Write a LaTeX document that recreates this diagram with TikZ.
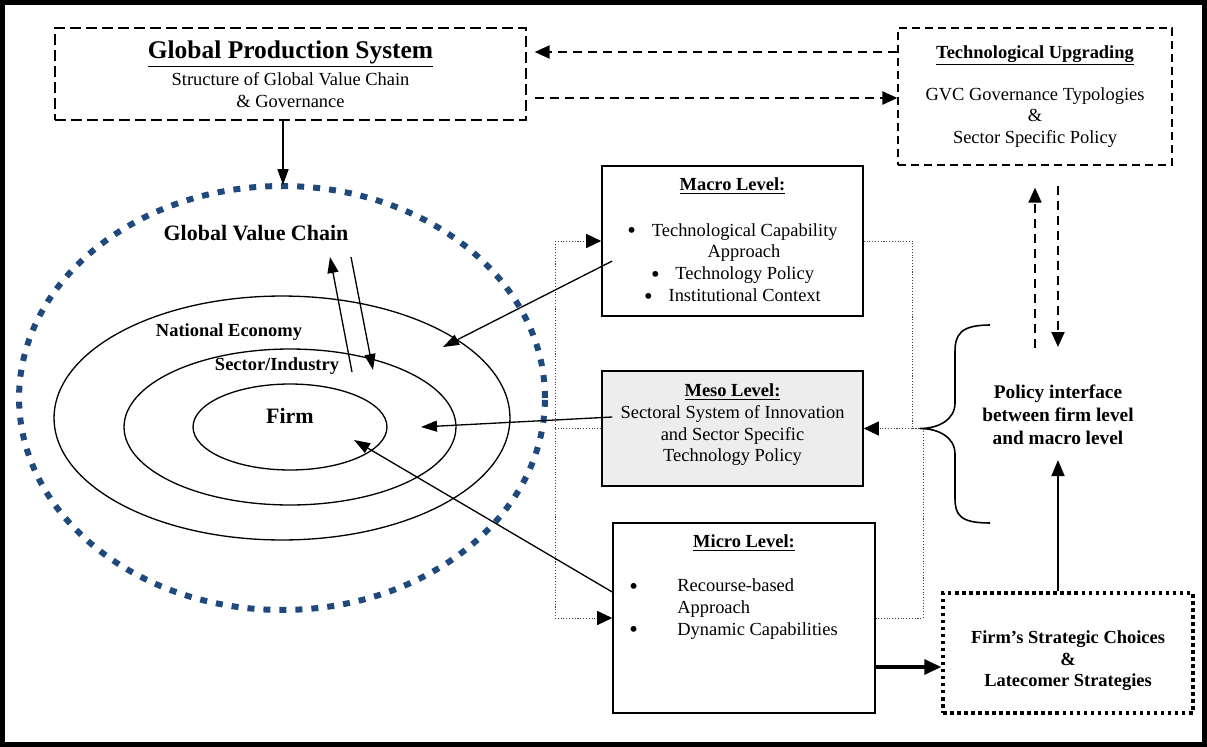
\documentclass[tikz,border=0pt]{standalone}
\usepackage{fontspec}
\setmainfont{Liberation Serif}
\usetikzlibrary{arrows.meta,positioning,calc}
\definecolor{gvcblue}{RGB}{31,73,125}
\newcommand{\lvlbullet}{\raisebox{-1.6pt}{\fontsize{14}{0}\selectfont\textbullet}}

\begin{document}
\begin{tikzpicture}[
    x=0.02cm, y=-0.02cm,
    every node/.style={font=\fontsize{10.5}{12.4}\selectfont, align=center, inner sep=0pt},
    levelbox/.style={draw, line width=0.9pt, minimum width=5.22cm},
    dashbox/.style={draw, line width=0.8pt, dash pattern=on 0.22cm off 0.1cm},
    dotline/.style={draw=black!75, line width=0.5pt, dash pattern=on 0.6pt off 1pt},
    arr/.style={line width=0.75pt, -{Triangle[length=0.32cm, width=0.22cm]}},
    dotarr/.style={dotline, -{Triangle[length=0.3cm, width=0.28cm, color=black]}},
    dasharr/.style={line width=1.3pt, dash pattern=on 0.19cm off 0.11cm, -{Triangle[length=0.3cm, width=0.26cm]}},
    ring/.style={draw, line width=0.75pt},
    lbl/.style={font=\fontsize{10.5}{12.4}\selectfont\bfseries},
    biglbl/.style={font=\fontsize{12.5}{14}\selectfont\bfseries}
]
\useasboundingbox (0,0) rectangle (1207,747);

% Frame
\draw[line width=0.1cm] (2.5,2.5) rectangle (1204.5,744.5);

% Global value chain rings
\draw[draw=gvcblue, line width=0.12cm, dash pattern=on 0.14cm off 0.18cm] (282,398) ellipse [x radius=5.26cm, y radius=4.24cm];
\draw[ring] (282,418) ellipse [x radius=4.56cm, y radius=2.44cm];
\draw[ring] (290,427) ellipse [x radius=3.32cm, y radius=1.56cm];
\draw[ring] (290,427) ellipse [x radius=1.94cm, y radius=0.86cm];

\node[biglbl] (gvclabel) at (256,233) {Global Value Chain};
\node[lbl] (natlabel) at (229,332) {National Economy};
\node[lbl] (seclabel) at (277,366) {Sector/Industry};
\node[biglbl] (firmlabel) at (290,416) {Firm};

% Top boxes
\node[dashbox, minimum width=9.42cm, minimum height=1.84cm] (gps) at (290.5,74)
  {{\fontsize{14.5}{16}\selectfont\bfseries\underline{Global Production System}}\\[2pt]
   Structure of Global Value Chain\\ \& Governance};
\node[dashbox, line width=0.7pt, dash pattern=on 0.16cm off 0.1cm,
      minimum width=5.48cm, minimum height=2.74cm] (tu) at (1035,96.5)
  {\textbf{\underline{Technological Upgrading}}\\[11.5pt]
   GVC Governance Typologies\\ \&\\ Sector Specific Policy};

% Level boxes
\node[levelbox, minimum height=3cm] (macro) at (732.5,241)
  {\textbf{\underline{Macro Level:}}\\[13.5pt]
   \lvlbullet\hspace{9pt}Technological Capability\\
   \hspace*{0.46cm}Approach\\
   \lvlbullet\hspace{9pt}Technology Policy\\
   \lvlbullet\hspace{9pt}Institutional Context};
\node[levelbox, minimum height=2.3cm, fill=gray!14] (meso) at (732.5,428.5)
  {\textbf{\underline{Meso Level:}}\\
   Sectoral System of Innovation\\ and Sector Specific\\ Technology Policy\rule[-6.5pt]{0pt}{6.5pt}};
\node[levelbox, minimum width=5.24cm, minimum height=3.8cm] (micro) at (744,618) {};
\node[lbl] (microtitle) at (744,543) {\underline{Micro Level:}};
\node[anchor=west] (microlist) at (629,609)
  {\begin{tabular}{@{}l@{}l@{}}
   \makebox[0.96cm][l]{\lvlbullet} & Recourse-based\\
    & Approach\\
   \makebox[0.96cm][l]{\lvlbullet} & Dynamic Capabilities
   \end{tabular}};

% Right column
\node[draw, line width=2pt, dash pattern=on 2pt off 2pt, minimum width=5cm, minimum height=2.4cm,
      font=\fontsize{10.5}{12.4}\selectfont\bfseries] (fsc) at (1068,653)
  {\rule{0pt}{16pt}Firm’s Strategic Choices\\ \&\\ Latecomer Strategies};
\node[font=\fontsize{11}{13}\selectfont\bfseries] (policy) at (1058,415)
  {Policy interface\\ between firm level\\ and macro level};

% Brace
\coordinate (bracetip) at (920,428.5);
\draw[line width=0.9pt] (990,325) .. controls (960,325) and (955,335) .. (955,352) -- (955,403)
  .. controls (955,420) and (938,428.5) .. (bracetip)
  .. controls (938,428.5) and (955,437) .. (955,454) -- (955,498)
  .. controls (955,515) and (960,523) .. (990,523);

% Dashed links
\coordinate (topdash) at (0,52);
\coordinate (botdash) at (0,98);
\draw[dasharr, shorten >=0.16cm] (tu.west |- topdash) -- (gps.east |- topdash);
\draw[dasharr, shorten <=0.16cm] (gps.east |- botdash) -- (tu.west |- botdash);
\coordinate (vup) at (1035,348);
\coordinate (vdn) at (1058,347);
\draw[dasharr, line width=1.1pt, shorten >=0.44cm] (vup) -- (vup |- tu.south);
\draw[dasharr, line width=1.1pt, shorten <=0.4cm] (vdn |- tu.south) -- (vdn);

% Dotted links
\coordinate (dl1) at (555,241);
\coordinate (dl2) at (555,428.5);
\coordinate (dl3) at (555,618);
\draw[dotline] (dl1) -- (dl3);
\draw[dotarr] (dl1) -- (macro.west);
\draw[dotline] (dl2) -- (meso.west);
\draw[dotarr] (dl3) -- (micro.west);
\coordinate (dr1) at (912,241);
\coordinate (dr2) at (912,428.5);
\coordinate (dr3) at (923,618);
\draw[dotline] (macro.east) -- (dr1) -- (dr2) -- (bracetip);
\draw[dotarr] (bracetip) -- (meso.east);
\draw[dotline] (bracetip -| dr3) -- (dr3) -- (micro.east);

% Solid arrows
\coordinate (gvctop) at (283,185);
\draw[arr, line width=1pt] (gps.south -| gvctop) -- (gvctop);
\coordinate (natpt) at (443,347);
\coordinate (secpt) at (421,427);
\coordinate (firmpt) at (354,440);
\draw[arr] ($(macro.west)+(11,20)$) -- (natpt);
\draw[arr] ($(meso.west)+(11,-11.5)$) -- (secpt);
\draw[arr] ($(micro.west)+(0,-26)$) -- (firmpt);
\coordinate (gvcup1) at (352,372);
\coordinate (gvcup2) at (330,257);
\coordinate (gvcdn1) at (351,257);
\coordinate (gvcdn2) at (373,370);
\draw[arr] (gvcup1) -- (gvcup2);
\draw[arr] (gvcdn1) -- (gvcdn2);
\path (micro.east) ++(0,49) coordinate (m2f);
\draw[line width=1.8pt, -{Triangle[length=0.34cm, width=0.3cm]}] (m2f) -- (m2f -| fsc.west);
\draw[line width=1.1pt, -{Triangle[length=0.32cm, width=0.26cm]}, shorten >=0.3cm] (fsc.north -| policy) -- (policy.south);

\end{tikzpicture}
\end{document}
